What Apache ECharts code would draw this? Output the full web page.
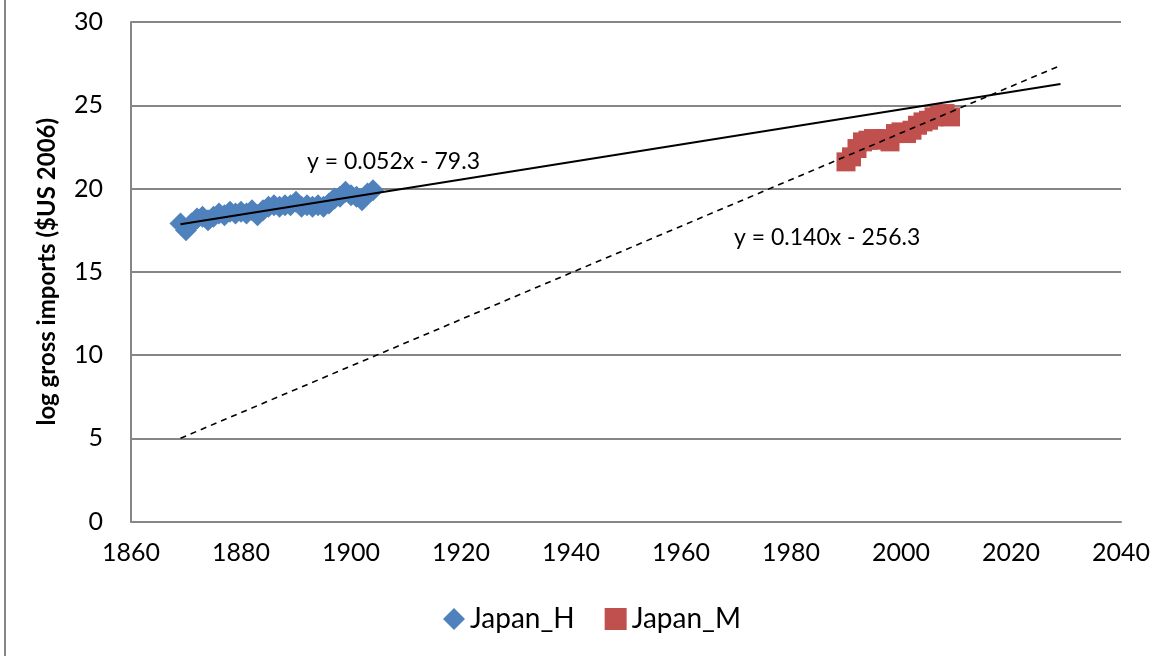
<!DOCTYPE html>
<html>
<head>
<meta charset="utf-8">
<script src="https://cdn.jsdelivr.net/npm/echarts@6/dist/echarts.min.js"></script>
<style>
html,body{margin:0;padding:0;background:#fff;}
#c{width:1176px;height:656px;}
</style>
</head>
<body>
<div id="c"></div>
<script>
var yearsH = [1869,1870,1871,1872,1873,1874,1875,1876,1877,1878,1879,1880,1881,1882,1883,1884,1885,1886,1887,1888,1889,1890,1891,1892,1893,1894,1895,1896,1897,1898,1899,1900,1901,1902,1903,1904];
var valuesH = [17.9,17.5,17.9,18.2,18.3,18.1,18.3,18.5,18.4,18.6,18.5,18.6,18.5,18.7,18.4,18.7,18.9,19.0,18.9,19.0,19.0,19.2,18.9,19.0,18.9,19.0,18.9,19.1,19.4,19.5,19.8,19.6,19.5,19.3,19.7,19.9];
var yearsM = [1990,1991,1992,1993,1994,1995,1996,1997,1998,1999,2000,2001,2002,2003,2004,2005,2006,2007,2008,2009];
var valuesM = [21.6,21.9,22.4,22.8,22.9,23.0,22.9,23.0,22.8,23.3,23.4,23.3,23.5,23.8,24.0,24.1,24.3,24.4,24.5,24.3];
var trendH = [[1869,17.85],[2029,26.27]];
var trendM = [[1869,5.0],[2029,27.39]];
var xTicks = [1860,1880,1900,1920,1940,1960,1980,2000,2020,2040];
var yTicks = [0,5,10,15,20,25,30];
var eqH = 'y = 0.052x - 79.3';
var eqM = 'y = 0.140x - 256.3';

function pairs(xs, ys){ return xs.map(function(x,i){ return [x, ys[i]]; }); }

var FONT = 'Lato';
var chart = echarts.init(document.getElementById('c'));
chart.setOption({
  animation:false,
  backgroundColor:'#fff',
  textStyle:{fontFamily:FONT},
  grid:{left:131, right:55, top:22, bottom:134.5, containLabel:false},
  xAxis:{
    type:'value', min:xTicks[0], max:xTicks[xTicks.length-1], interval:20,
    axisLine:{show:true, lineStyle:{color:'#868686', width:2}},
    axisTick:{show:false},
    splitLine:{show:false},
    axisLabel:{color:'#000', fontSize:25, fontFamily:FONT, margin:19,
      formatter:function(v){ return String(v); }}
  },
  yAxis:{
    type:'value', min:yTicks[0], max:yTicks[yTicks.length-1], interval:5,
    name:'log gross imports ($US 2006)', nameLocation:'middle', nameGap:72, nameRotate:90,
    nameTextStyle:{color:'#000', fontSize:24, fontWeight:'bold', fontFamily:FONT},
    axisLine:{show:true, lineStyle:{color:'#868686', width:2}},
    axisTick:{show:false},
    splitLine:{show:true, lineStyle:{color:'#868686', width:2}},
    axisLabel:{color:'#000', fontSize:25, fontFamily:FONT, margin:28}
  },
  legend:{
    data:[{name:'Japan_H', icon:'diamond'},{name:'Japan_M', icon:'rect'}],
    left:438, top:600, itemWidth:22, itemHeight:22, itemGap:30,
    textStyle:{color:'#000', fontSize:28, fontFamily:FONT},
    itemStyle:{opacity:1}
  },
  series:[
    {name:'Japan_H', type:'scatter', symbol:'diamond', symbolSize:[22,22],
     itemStyle:{color:'#4F81BD', opacity:1}, data:pairs(yearsH, valuesH), z:2},
    {name:'Japan_M', type:'scatter', symbol:'rect', symbolSize:[19,19],
     itemStyle:{color:'#C0504D', opacity:1}, data:pairs(yearsM, valuesM), z:2},
    {name:'trendH', type:'line', data:trendH, symbol:'none',
     lineStyle:{color:'#000', width:2}, z:3, silent:true},
    {name:'trendM', type:'line', data:trendM, symbol:'none',
     lineStyle:{color:'#000', width:1.6, type:[6,5]}, z:3, silent:true}
  ],
  graphic:[
    {type:'line', shape:{x1:5, y1:0, x2:5, y2:656}, style:{stroke:'#868686', lineWidth:2}},
    {type:'text', left:307, top:150, style:{text:eqH, fill:'#000', font:'23px Lato'}},
    {type:'text', left:734, top:226, style:{text:eqM, fill:'#000', font:'23px Lato'}}
  ]
});
</script>
</body>
</html>
